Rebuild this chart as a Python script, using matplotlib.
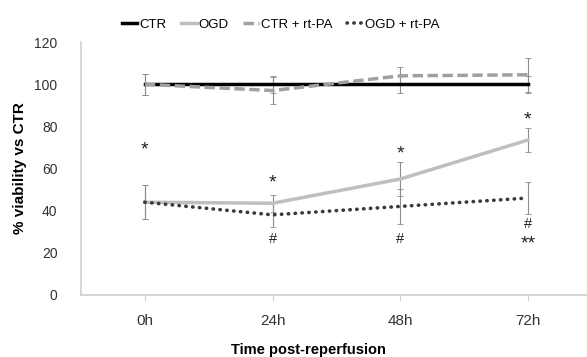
import numpy as np
import matplotlib.pyplot as plt

plt.rcParams['font.family'] = ['Liberation Sans', 'DejaVu Sans']

times = ['0h', '24h', '48h', '72h']
ctr = [100, 100, 100, 100]
ctr_err = [5, 4, 4, 4]
ogd = [44, 43.5, 55, 73.5]
ogd_err = [8, 4, 8, 5.5]
ctr_pa = [100, 97, 104, 104.5]
ctr_pa_err = [5, 6.5, 4, 8]
ogd_pa = [44, 38, 42, 46]
ogd_pa_err = [8, 6, 8.5, 7.5]

# significance marks: (x index, y value, text)
marks = [(0, 69, '*'), (1, 53, '*'), (2, 67, '*'), (3, 83, '*'),
         (1, 26.5, '#'), (2, 26.5, '#'), (3, 33.5, '#'), (3, 24, '**')]

x = np.arange(len(times))

fig = plt.figure(figsize=(5.87, 3.57), dpi=100)
ax = fig.add_axes([0.138, 0.174, 0.87, 0.708])

eb = dict(ecolor='#8c8c8c', elinewidth=0.8, capsize=2, capthick=0.6)
ax.errorbar(x, ctr_pa, yerr=ctr_pa_err, fmt='none', **eb)
ax.errorbar(x, ctr, yerr=ctr_err, fmt='none', **eb)
ax.errorbar(x, ogd, yerr=ogd_err, fmt='none', **eb)
ax.errorbar(x, ogd_pa, yerr=ogd_pa_err, fmt='none', **eb)

ax.plot(x, ctr, color='black', lw=2.5, label='CTR')
ax.plot(x, ogd, color='#bfbfbf', lw=2.5, label='OGD')
ax.plot(x, ctr_pa, color='#a0a0a0', lw=2.5, ls=(0, (3, 1.3)), label='CTR + rt-PA')
ax.plot(x, ogd_pa, color='#3a3a3a', lw=2.6, ls=(0, (0.1, 1.8)),
        dash_capstyle='round', label='OGD + rt-PA')

for i, yv, t in marks:
    ax.text(x[i], yv, t, ha='center', va='center', fontsize=14 if '*' in t else 10.5,
            color='#222222')

ax.set_xlim(-0.5, 3.5)
ax.set_ylim(0, 120)
ax.set_yticks(range(0, 121, 20))
ax.set_xticks(x)
ax.set_xticklabels(times, fontsize=11)
ax.tick_params(axis='y', length=0, labelsize=10, pad=17, colors='#333333')
ax.tick_params(axis='x', length=4, color='#d0d0d0', pad=10, colors='#333333')
for s in ['top', 'right']:
    ax.spines[s].set_visible(False)
for s in ['left', 'bottom']:
    ax.spines[s].set_color('#d0d0d0')
    ax.spines[s].set_linewidth(1.2)

ax.set_ylabel('% viability vs CTR', fontsize=11, fontweight='bold', labelpad=5)
ax.set_xlabel('Time post-reperfusion', fontsize=10.5, fontweight='bold')
ax.xaxis.set_label_coords(0.445, -0.19)

fig.legend(loc='center', bbox_to_anchor=(0.478, 0.93), ncol=4, frameon=False,
           fontsize=9.5, handlelength=1.2, handletextpad=0.15, columnspacing=1.1)

fig.savefig('out.png', dpi=100)
